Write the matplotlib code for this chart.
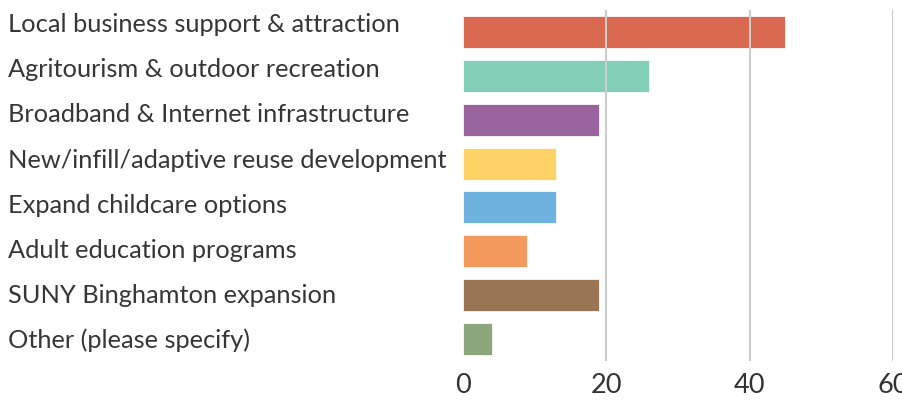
import matplotlib
matplotlib.use("Agg")
import matplotlib.pyplot as plt

categories = [
    "Local business support & attraction",
    "Agritourism & outdoor recreation",
    "Broadband & Internet infrastructure",
    "New/infill/adaptive reuse development",
    "Expand childcare options",
    "Adult education programs",
    "SUNY Binghamton expansion",
    "Other (please specify)",
]
values = [45, 26, 19, 13, 13, 9, 19, 4]
colors = ["#d4573c", "#74c9b0", "#8e5392", "#ffce55", "#5eaadd", "#f48f4c", "#8e6640", "#7f9c6c"]
xticks = [0, 20, 40, 60]

plt.rcParams['font.family'] = ['Lato', 'DejaVu Sans']

W, H = 903, 400
fig = plt.figure(figsize=(W / 100, H / 100), dpi=100)
ax = fig.add_axes([463 / W, 39 / H, 430 / W, 351 / H])

y = list(range(len(categories)))
ax.barh(y, values, height=0.73, color=colors, alpha=0.9, zorder=1, edgecolor='white', linewidth=0.6)
ax.set_ylim(len(categories) - 0.5, -0.5)
ax.set_xlim(0, 60)
ax.set_xticks(xticks)
ax.set_xticklabels([str(t) for t in xticks], fontsize=19.5, color='#333333')
ax.set_yticks(y)
ax.set_yticklabels([])
ax.tick_params(axis='y', length=0)
ax.tick_params(axis='x', length=0, pad=8.5)
for s in ax.spines.values():
    s.set_visible(False)
ax.grid(axis='x', color='#cccccc', linewidth=1.5)
gl = ax.get_xgridlines()
gl[0].set_visible(False)
for g in gl:
    g.set_zorder(0.5)

# category labels, left-aligned, on their own slightly wider spacing
for i, lab in enumerate(categories):
    base_px = 32 + 45.2 * i
    fig.text(8 / W, 1 - base_px / H, lab, fontsize=18.3, color='#363636',
             ha='left', va='baseline')

fig.savefig("out.png", dpi=100)
